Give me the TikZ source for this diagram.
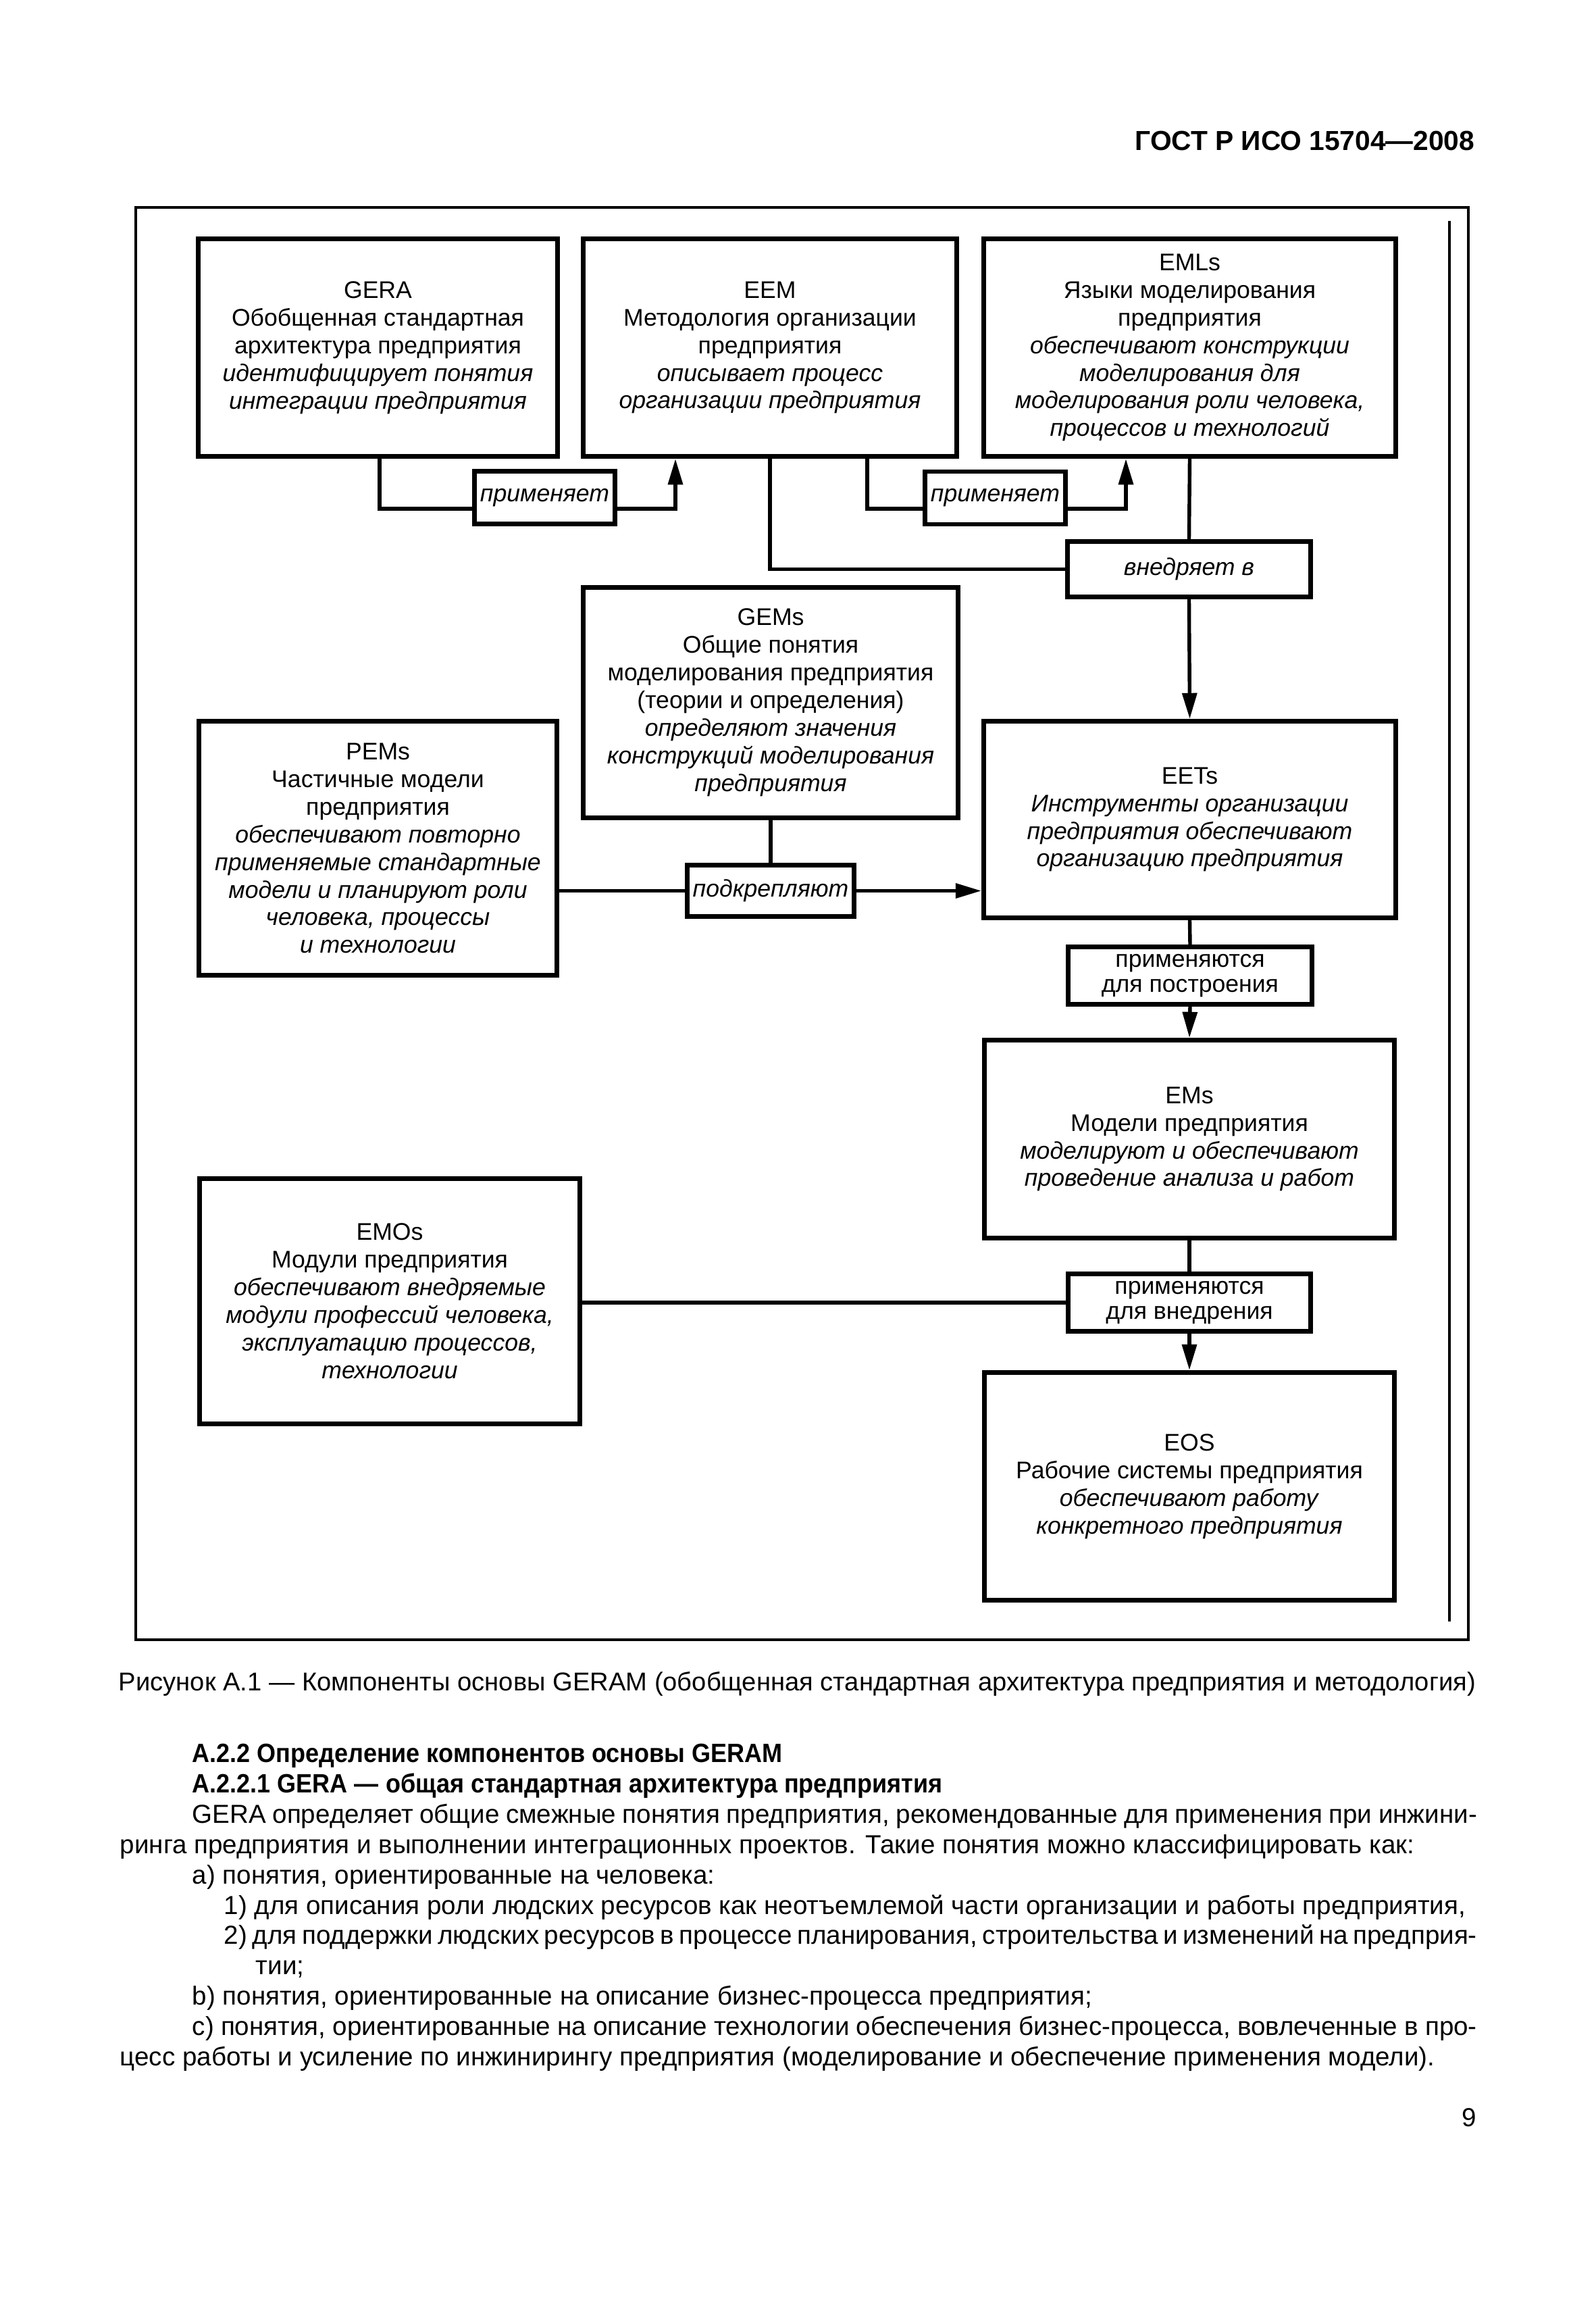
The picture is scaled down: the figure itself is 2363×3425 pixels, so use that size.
\documentclass[tikz,border=0pt]{standalone}
\usepackage{fontspec}
\usepackage{graphicx}
\setmainfont{Liberation Sans}
\usetikzlibrary{arrows.meta}
\tikzset{
  sz/.style 2 args={minimum width=#1*0.08887mm, minimum height=#2*0.08887mm},
  mainbox/.style={draw, line width=0.62mm, inner sep=0pt, align=center,
    font=\fontsize{9}{10.35}\selectfont},
  lblbox/.style={draw, line width=0.55mm, inner sep=0pt, align=center,
    font=\fontsize{9}{9.4}\selectfont},
  conn/.style={line width=0.48mm},
  arr/.style={-{Triangle[length=3.4mm,width=1.9mm]}},
  bodytxt/.style={anchor=base west, inner sep=0pt, font=\fontsize{9.75}{12}\selectfont},
  boldtxt/.style={anchor=base west, inner sep=0pt, font=\fontsize{9.9}{12}\selectfont\bfseries},
}
\begin{document}
\begin{tikzpicture}[x=0.08887mm, y=-0.08887mm]
\useasboundingbox (0,0) rectangle (2363,3425);
\fill[white] (0,0) rectangle (2363,3425);

% header
\node[anchor=base east, inner sep=0pt, font=\fontsize{10.3}{12}\selectfont\bfseries] (hdr) at (2184,222) {ГОСТ Р ИСО 15704—2008};

% frame
\draw[line width=0.3mm] (201,307) rectangle (2174,2427);
\draw[line width=0.42mm] (2146,327) -- (2146,2400);

% main boxes
\node[mainbox, sz={532}{322}] (gera) at (559.5,514.5) {GERA\\Обобщенная стандартная\\архитектура предприятия\\\textit{идентифицирует понятия}\\\textit{интеграции предприятия}};
\node[mainbox, sz={553}{322}] (eem) at (1140,514.5) {EEM\\Методология организации\\предприятия\\\textit{описывает процесс}\\\textit{организации предприятия}};
\node[mainbox, sz={610}{322}] (emls) at (1761.5,514.5) {EMLs\\Языки моделирования\\предприятия\\\textit{обеспечивают конструкции}\\\textit{моделирования для}\\\textit{моделирования роли человека,}\\\textit{процессов и технологий}};
\node[mainbox, sz={555}{341}] (gems) at (1141,1040) {GEMs\\Общие понятия\\моделирования предприятия\\(теории и определения)\\\textit{определяют значения}\\\textit{конструкций моделирования}\\\textit{предприятия}};
\node[mainbox, sz={530}{376}] (pems) at (559.5,1255.5) {PEMs\\Частичные модели\\предприятия\\\textit{обеспечивают повторно}\\\textit{применяемые стандартные}\\\textit{модели и планируют роли}\\\textit{человека, процессы}\\\textit{и технологии}};
\node[mainbox, sz={610}{291}] (eets) at (1761.5,1213) {EETs\\\textit{Инструменты организации}\\\textit{предприятия обеспечивают}\\\textit{организацию предприятия}};
\node[mainbox, sz={607}{293}] (ems) at (1761,1686) {EMs\\Модели предприятия\\\textit{моделируют и обеспечивают}\\\textit{проведение анализа и работ}};
\node[mainbox, sz={563}{363}] (emos) at (577,1926) {EMOs\\Модули предприятия\\\textit{обеспечивают внедряемые}\\\textit{модули профессий человека,}\\\textit{эксплуатацию процессов,}\\\textit{технологии}};
\node[mainbox, sz={607}{337}] (eos) at (1761,2200) {EOS\\Рабочие системы предприятия\\\textit{обеспечивают работу}\\\textit{конкретного предприятия}};

% label boxes
\node[lblbox, sz={208}{78}] (p1) at (806.5,736.5) {\textit{применяет}};
\node[lblbox, sz={208}{78}] (p2) at (1473.5,737) {\textit{применяет}};
\node[lblbox, sz={360}{82}] (vn) at (1760.5,842.5) {\textit{внедряет в}};
\node[lblbox, sz={247}{76}] (pk) at (1141,1318.5) {\textit{подкрепляют}};
\node[lblbox, sz={361}{85}] (pb) at (1762,1444) {применяются\\для построения};
\node[lblbox, sz={359}{85}] (pv) at (1761,1928) {применяются\\для внедрения};

% connector bend points
\coordinate (a1) at (562,753);
\coordinate (a2) at (1000,753);
\coordinate (b1) at (1284,753);
\coordinate (b2) at (1667,753);

% connectors
\draw[conn] (gera.south -| a1) |- (p1.west |- a1);
\draw[conn,arr] (p1.east |- a2) -| (eem.south -| a2);
\draw[conn] (eem.south -| b1) |- (p2.west |- b1);
\draw[conn,arr] (p2.east |- b2) -| (emls.south -| b2);
\draw[conn] (eem.south) |- (vn.west);
\draw[conn] (emls.south) -- (vn.north);
\draw[conn,arr] (vn.south) -- (eets.north);
\draw[conn] (gems.south) -- (pk.north);
\draw[conn] (pems.east |- pk.west) -- (pk.west);
\draw[conn,arr] (pk.east) -- (eets.west |- pk.east);
\draw[conn] (eets.south) -- (pb.north);
\draw[conn,arr] (pb.south) -- (ems.north);
\draw[conn] (ems.south) -- (pv.north);
\draw[conn,arr] (pv.south) -- (eos.north);
\draw[conn] (emos.east |- pv.west) -- (pv.west);

% caption
\node[anchor=base west, inner sep=0pt, font=\fontsize{9.65}{12}\selectfont] (cap) at (175,2502) {Рисунок А.1 — Компоненты основы GERAM (обобщенная стандартная архитектура предприятия и методология)};

% body text
\node[boldtxt] (t1) at (284,2608) {\scalebox{0.92}[1]{А.2.2 Определение компонентов основы GERAM}};
\node[boldtxt] (t2) at (284,2653) {\scalebox{0.92}[1]{А.2.2.1 GERA — общая стандартная архитектура предприятия}};
\node[bodytxt] (t3) at (284,2698) {\makebox[1902\dimexpr0.08887mm\relax][s]{GERA определяет общие смежные понятия предприятия, рекомендованные для применения при инжини-}};
\node[bodytxt] (t4) at (177,2743) {ринга предприятия и выполнении интеграционных проектов. Такие понятия можно классифицировать как:};
\node[bodytxt] (t5) at (284,2788) {a) понятия, ориентированные на человека:};
\node[bodytxt] (t6) at (331,2833) {1) для описания роли людских ресурсов как неотъемлемой части организации и работы предприятия,};
\node[bodytxt] (t7) at (331,2877) {\makebox[1855\dimexpr0.08887mm\relax][s]{2) для поддержки людских ресурсов в процессе планирования, строительства и изменений на предприя-}};
\node[bodytxt] (t8) at (378,2922) {тии;};
\node[bodytxt] (t9) at (284,2967) {b) понятия, ориентированные на описание бизнес-процесса предприятия;};
\node[bodytxt] (t10) at (284,3012) {\makebox[1902\dimexpr0.08887mm\relax][s]{c) понятия, ориентированные на описание технологии обеспечения бизнес-процесса, вовлеченные в про-}};
\node[bodytxt] (t11) at (177,3057) {цесс работы и усиление по инжинирингу предприятия (моделирование и обеспечение применения модели).};

% page number
\node[anchor=base east, inner sep=0pt, font=\fontsize{9.75}{12}\selectfont] (pnum) at (2187,3147) {9};
\end{tikzpicture}
\end{document}
